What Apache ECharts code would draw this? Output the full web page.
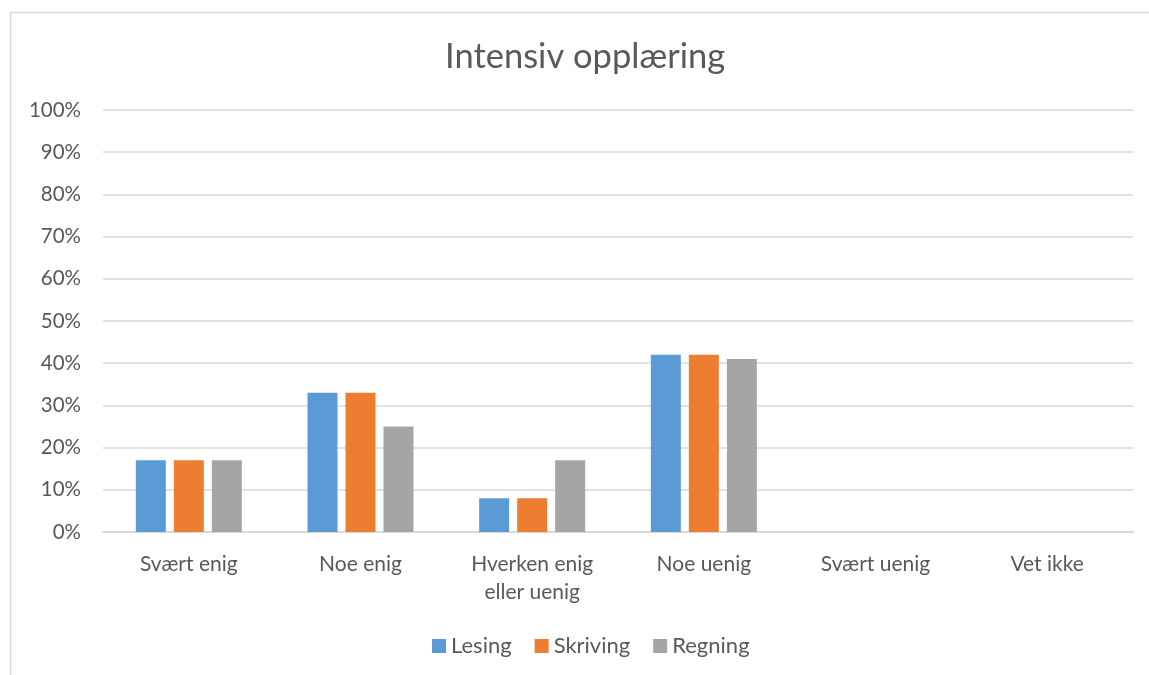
<!DOCTYPE html>
<html><head><meta charset="utf-8">
<script src="https://cdn.jsdelivr.net/npm/echarts@6/dist/echarts.min.js"></script>
<style>html,body{margin:0;padding:0;background:#fff;}#c{width:1149px;height:675px;}</style>
</head><body><div id="c"></div>
<script>
const categories = ['Svært enig','Noe enig','Hverken enig\neller uenig','Noe uenig','Svært uenig','Vet ikke'];
const lesing = [17,33,8,42,0,0];
const skriving = [17,33,8,42,0,0];
const regning = [17,25,17,41,0,0];
const seriesNames = ['Lesing','Skriving','Regning'];
const colors = ['#5B9BD5','#ED7D31','#A5A5A5'];
const FONT = 'Lato';
const chart = echarts.init(document.getElementById('c'));
chart.setOption({
  animation:false,
  color:colors,
  textStyle:{fontFamily:FONT},
  graphic:[{type:'rect',shape:{x:10.5,y:12.5,width:1150,height:700},style:{fill:'none',stroke:'#D9D9D9',lineWidth:1.5},silent:true}],
  title:{text:'Intensiv opplæring',left:445,top:39,padding:0,textStyle:{fontFamily:FONT,fontSize:34.5,fontWeight:'normal',color:'#595959'}},
  legend:{bottom:18,left:432,padding:0,itemWidth:14,itemHeight:14,itemGap:23,icon:'rect',
    textStyle:{fontFamily:FONT,fontSize:22,color:'#595959'},data:seriesNames},
  grid:{left:103,right:16,top:110,bottom:143,containLabel:false},
  xAxis:{type:'category',data:categories,axisTick:{show:false},
    axisLine:{lineStyle:{color:'#D9D9D9',width:2}},
    axisLabel:{fontFamily:FONT,fontSize:21,color:'#595959',margin:18,lineHeight:28,interval:0}},
  yAxis:{type:'value',min:0,max:100,interval:10,
    axisLabel:{formatter:'{value}%',fontFamily:FONT,fontSize:20.5,color:'#595959',margin:22},
    splitLine:{lineStyle:{color:'#D9D9D9',width:1.5}},axisLine:{show:false},axisTick:{show:false}},
  series:[
    {name:'Lesing',type:'bar',data:lesing,barWidth:30,barGap:'26.7%'},
    {name:'Skriving',type:'bar',data:skriving,barWidth:30,barGap:'26.7%'},
    {name:'Regning',type:'bar',data:regning,barWidth:30,barGap:'26.7%'}
  ]
});
</script></body></html>
